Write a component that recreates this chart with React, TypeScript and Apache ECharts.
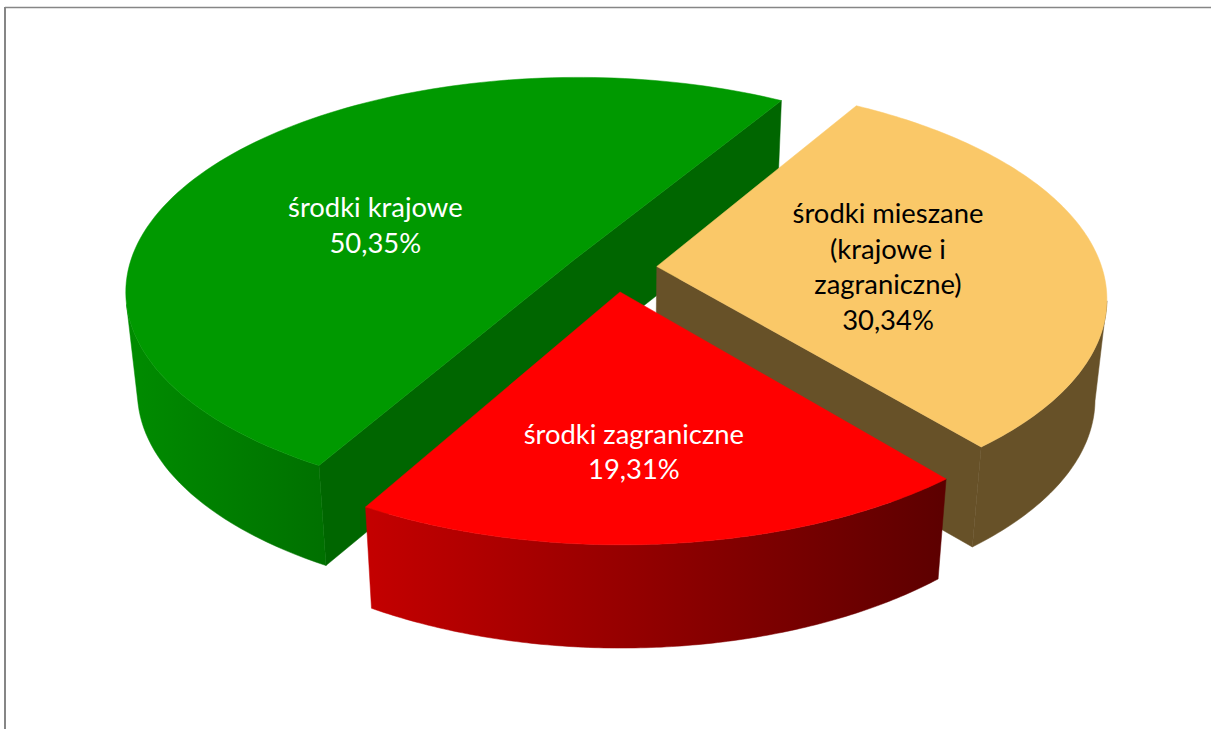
import React, { useEffect, useRef } from "react";
import * as echarts from "echarts";

// Data
const categories = ["środki krajowe", "środki mieszane (krajowe i zagraniczne)", "środki zagraniczne"];
const labelLines = [["środki krajowe"], ["środki mieszane", "(krajowe i", "zagraniczne)"], ["środki zagraniczne"]];
const values = [50.35, 30.34, 19.31];

// Projection / layout of the tilted pie (disk of radius 1 seen in perspective)
const CX = 612, CY = 270.6, RX = 446, RY = 211, PERSP = 0.14;
const DEPTH = 100, BOTTOM_SCALE = 0.976, EXPLODE = 0.1;
const START_DEG = 209.7; // clockwise from the top, where the first slice starts
const NUDGE = [[0, 0], [0.001, -0.012], [0.009, 0]];
const LABEL_LOCAL = [[-0.461, -0.174], [0.52, -0.002], [0.026, 0.664]];
const TOP_FILL = ["#009900", "#fac868", "#ff0000"];
const CUT_FILL = ["#006600", "#675128", "#600000"];
const WALL_STOPS = [
  ["#008c00", "#007000"],
  ["#675128", "#675128"],
  ["#c40000", "#5c0000"],
];
const LABEL_COLOR = ["#ffffff", "#000000", "#ffffff"];

const total = values.reduce((s, v) => s + v, 0);
const rad = (d: number) => (d * Math.PI) / 180;

function project(X: number, Y: number): [number, number] {
  const w = 1 - PERSP * Y;
  return [CX + (RX * X) / w, CY + (RY * Y) / w];
}
function lower(p: [number, number]): [number, number] {
  return [CX + (p[0] - CX) * BOTTOM_SCALE, p[1] + DEPTH + Math.max(0, p[1] - 480) * 0.05];
}

function renderSlice(params: any, api: any) {
  const i = params.dataIndex;
  let before = 0;
  for (let k = 0; k < i; k++) before += values[k];
  const a0 = START_DEG + (before / total) * 360;
  const a1 = a0 + (api.value(0) / total) * 360;
  const mid = rad((a0 + a1) / 2);
  const ox = EXPLODE * Math.sin(mid) + NUDGE[i][0], oy = -EXPLODE * Math.cos(mid) + NUDGE[i][1];
  const pt = (deg: number): [number, number] =>
    project(ox + Math.sin(rad(deg)), oy - Math.cos(rad(deg)));
  const apex = project(ox, oy);

  const arc: [number, number][] = [];
  const N = 120;
  for (let s = 0; s <= N; s++) arc.push(pt(a0 + ((a1 - a0) * s) / N));

  // part of the rim on the viewer's side of the silhouette
  const rim: [number, number][] = [];
  for (let s = 0; s <= N; s++) {
    const d = a0 + ((a1 - a0) * s) / N;
    if (oy - Math.cos(rad(d)) >= PERSP) rim.push(pt(d));
  }

  const first = arc[0], last = arc[arc.length - 1];
  const children: any[] = [];
  // cut faces turned towards the viewer: the nearly straight edge of the half disk, and one edge of the next slice
  if (i === 0) {
    children.push({
      type: "polygon",
      shape: { points: [first, apex, last, lower(last), lower(apex), lower(first)] },
      style: { fill: CUT_FILL[i], stroke: CUT_FILL[i], lineWidth: 0.5 },
      silent: true,
    });
  } else if (i === 1) {
    children.push({
      type: "polygon",
      shape: { points: [apex, last, lower(last), lower(apex)] },
      style: { fill: CUT_FILL[i], stroke: CUT_FILL[i], lineWidth: 0.5 },
      silent: true,
    });
  }
  if (rim.length > 1) {
    const grad = new echarts.graphic.LinearGradient(0, 0, 1, 0, [
      { offset: 0, color: WALL_STOPS[i][0] },
      { offset: 1, color: WALL_STOPS[i][1] },
    ]);
    children.push({
      type: "polygon",
      shape: { points: [...rim, ...rim.slice().reverse().map(lower)] },
      style: { fill: grad, stroke: grad, lineWidth: 0.5 },
      silent: true,
    });
  }
  children.push({
    type: "polygon",
    shape: { points: [apex, ...arc] },
    style: { fill: TOP_FILL[i], stroke: TOP_FILL[i], lineWidth: 0.5 },
    silent: true,
  });
  const lp = project(ox + LABEL_LOCAL[i][0], oy + LABEL_LOCAL[i][1]);
  const pct = api.value(0).toFixed(2).replace(".", ",") + "%";
  children.push({
    type: "text",
    x: lp[0],
    y: lp[1],
    style: {
      text: [...labelLines[i], pct].join("\n"),
      fill: LABEL_COLOR[i],
      font: '27.4px Lato, "Noto Sans", sans-serif',
      align: "center",
      verticalAlign: "middle",
      lineHeight: 35.5,
    },
    silent: true,
  });
  return { type: "group", children };
}

export default function App() {
  const ref = useRef<HTMLDivElement>(null);
  useEffect(() => {
    document.body.style.margin = "0";
    const chart = echarts.init(ref.current!, undefined, { renderer: "svg" });
    chart.setOption({
      animation: false,
      backgroundColor: "#ffffff",
      graphic: [
        { type: "line", shape: { x1: 5, y1: 7.5, x2: 1211, y2: 7.5 }, style: { stroke: "#868686", lineWidth: 1.5 } },
        { type: "line", shape: { x1: 5, y1: 7, x2: 5, y2: 729 }, style: { stroke: "#868686", lineWidth: 2 } },
      ],
      series: [
        {
          type: "custom",
          name: "Źródła finansowania",
          coordinateSystem: "none",
          renderItem: renderSlice,
          data: values.map((v, i) => ({ name: categories[i], value: [v] })),
        },
      ],
    });
    return () => chart.dispose();
  }, []);
  return <div ref={ref} style={{ position: "absolute", left: 0, top: 0, width: 1211, height: 729, overflow: "hidden" }} />;
}
